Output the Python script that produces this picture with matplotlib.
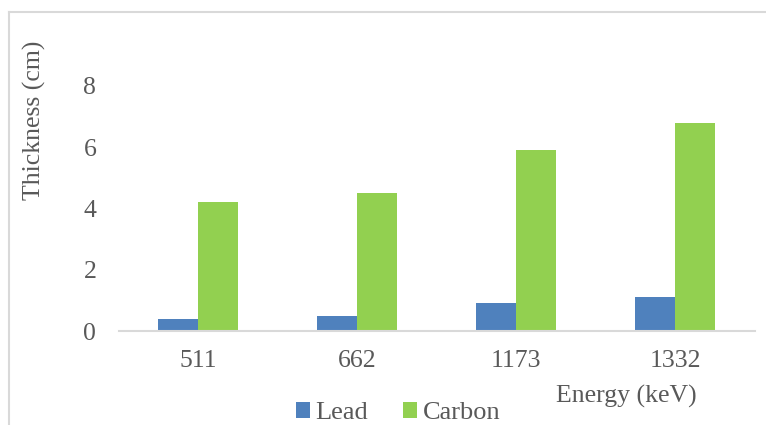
import matplotlib.pyplot as plt
from matplotlib.lines import Line2D
import numpy as np

# Shielding thickness per gamma energy
energies = ['511', '662', '1173', '1332']
lead = [0.4, 0.5, 0.9, 1.1]
carbon = [4.2, 4.5, 5.9, 6.8]

plt.rcParams['font.family'] = ['Liberation Serif', 'DejaVu Serif']
text_grey = '#595959'
fs = 18.5

fig = plt.figure(figsize=(7.66, 4.25), dpi=100)
ax = fig.add_axes([118.5 / 766, 94 / 425, 636 / 766, 245 / 425])

x = np.arange(len(energies))
w = 0.25
ax.bar(x - w / 2, lead, w, color='#4F81BD', label='Lead')
ax.bar(x + w / 2, carbon, w, color='#92D050', label='Carbon')

ax.set_xlim(-0.5, len(energies) - 0.5)
ax.set_ylim(0, 8)
ax.set_yticks([0, 2, 4, 6, 8])
ax.set_xticks(x)
ax.set_xticklabels(energies)

for s in ['top', 'right', 'left']:
    ax.spines[s].set_visible(False)
ax.spines['bottom'].set_color('#d9d9d9')
ax.spines['bottom'].set_linewidth(1.5)
ax.tick_params(axis='both', length=0, labelsize=fs, labelcolor=text_grey)
ax.tick_params(axis='y', pad=16)
ax.tick_params(axis='x', pad=14)

fig.text(34 / 766, 1 - 120 / 425, 'Thickness (cm)', rotation=90,
         ha='center', va='center', fontsize=fs, color=text_grey)
fig.text(626 / 766, 1 - 396 / 425, 'Energy (keV)',
         ha='center', va='center', fontsize=fs, color=text_grey)

fig.legend(loc='center', bbox_to_anchor=(398 / 766, 1 - 413 / 425),
           ncol=2, frameon=False, fontsize=19, handlelength=0.55,
           handleheight=0.55, handletextpad=0.2, columnspacing=1.3,
           borderpad=0, labelcolor=text_grey)

# chart area border (top and left edges only)
bx, by = 8.5 / 766, 1 - 12 / 425
fig.lines.append(Line2D([bx, 1.0], [by, by], transform=fig.transFigure,
                        color='#d9d9d9', linewidth=1.5))
fig.lines.append(Line2D([bx, bx], [0, by], transform=fig.transFigure,
                        color='#d9d9d9', linewidth=1.5))

fig.savefig('out.png', dpi=100)
